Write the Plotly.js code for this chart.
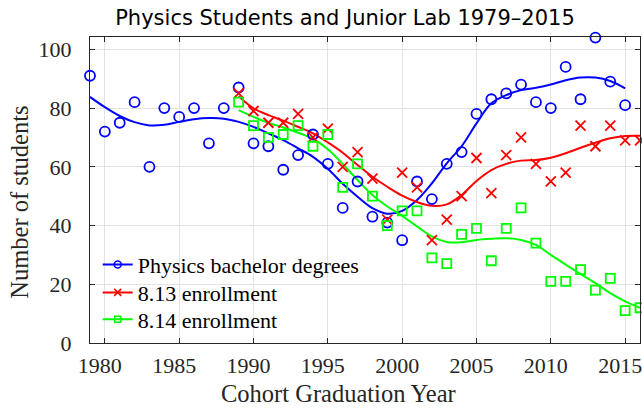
<!DOCTYPE html>
<html>
<head>
<meta charset="utf-8">
<script src="https://cdn.plot.ly/plotly-3.0.1.min.js"></script>
<style>html,body{margin:0;padding:0;background:#fff;}#chart{width:642px;height:408px;}</style>
</head>
<body>
<div id="chart"></div>
<script>
// Physics bachelor degrees (points)
var physYears = [1979,1980,1981,1982,1983,1984,1985,1986,1987,1988,1989,1990,1991,1992,1993,1994,1995,1996,1997,1998,1999,2000,2001,2002,2003,2004,2005,2006,2007,2008,2009,2010,2011,2012,2013,2014,2015];
var physValues = [91,72,75,82,60,80,77,80,68,80,87,68,67,59,64,71,61,46,55,43,41,35,55,49,61,65,78,83,85,88,82,80,94,83,104,89,81];
// Physics smoothed curve
var physFit = [83.8,80.3,77.3,75.2,74.1,74.3,75.3,76.2,76.6,76.4,75.3,73.6,71.4,69.1,66.3,63.4,59.3,54.2,49.8,45.9,44.0,45.0,48.7,54.4,61.2,67.0,74.8,81.6,84.4,86.1,86.9,88.0,89.5,90.4,90.4,89.2,86.7];

// 8.13 enrollment
var jlYears = [1989,1990,1991,1992,1993,1994,1995,1996,1997,1998,1999,2000,2001,2002,2003,2004,2005,2006,2007,2008,2009,2010,2011,2012,2013,2014,2015,2016];
var e813Values = [85,79,75,75,78,70,73,60,65,56,42,58,53,35,42,50,63,51,64,70,61,55,58,74,67,74,69,69];
var e813Fit = [84.0,79.9,77.6,75.7,73.6,71.4,68.3,64.8,60.6,56.6,53.2,50.2,48.0,46.7,47.2,50.4,55.2,58.9,61.0,62.1,62.3,63.1,64.6,66.5,68.2,69.7,70.5,70.6];

// 8.14 enrollment
var e814Values = [82,74,70,71,74,67,71,53,61,50,40,45,45,29,27,37,39,28,39,46,34,21,21,25,18,22,11,12];
var e814Fit = [79.3,77.0,75.0,73.4,71.6,69.5,66.0,61.0,55.5,50.4,46.5,43.3,39.7,36.3,34.4,34.3,35.1,35.5,35.7,35.1,33.4,30.0,26.7,23.5,20.4,17.0,14.2,12.0];

var seriesNames = ['Physics bachelor degrees','8.13 enrollment','8.14 enrollment'];
var xTicks = [1980,1985,1990,1995,2000,2005,2010,2015];
var yTicks = [0,20,40,60,80,100];

var BLUE = '#0000ff', RED = '#ff0000', GREEN = '#00ff00';
var serif = 'Liberation Serif, Times New Roman, serif';

var traces = [
  {x: physYears, y: physFit, mode: 'lines', line: {color: BLUE, width: 2, shape: 'spline'}, showlegend: false, hoverinfo: 'skip'},
  {x: jlYears, y: e813Fit, mode: 'lines', line: {color: RED, width: 2, shape: 'spline'}, showlegend: false, hoverinfo: 'skip'},
  {x: jlYears, y: e814Fit, mode: 'lines', line: {color: GREEN, width: 2, shape: 'spline'}, showlegend: false, hoverinfo: 'skip'},
  {x: physYears, y: physValues, mode: 'markers', cliponaxis: false, showlegend: false,
   marker: {symbol: 'circle-open', size: 10, color: BLUE, line: {color: BLUE, width: 1.8}}},
  {x: jlYears, y: e813Values, mode: 'markers', cliponaxis: false, showlegend: false,
   marker: {symbol: 'x-thin-open', size: 10, color: RED, line: {color: RED, width: 1.8}}},
  {x: jlYears, y: e814Values, mode: 'markers', cliponaxis: false, showlegend: false,
   marker: {symbol: 'square-open', size: 9, color: GREEN, line: {color: GREEN, width: 1.8}}},
  // legend entries
  {x: [null], y: [null], name: seriesNames[0], legend: 'legend', mode: 'lines+markers', line: {color: BLUE, width: 2},
   marker: {symbol: 'circle-open', size: 7, color: BLUE, line: {color: BLUE, width: 1.5}}},
  {x: [null], y: [null], name: seriesNames[1], legend: 'legend2', mode: 'lines+markers', line: {color: RED, width: 2},
   marker: {symbol: 'x-thin-open', size: 7, color: RED, line: {color: RED, width: 1.5}}},
  {x: [null], y: [null], name: seriesNames[2], legend: 'legend3', mode: 'lines+markers', line: {color: GREEN, width: 2},
   marker: {symbol: 'square-open', size: 6, color: GREEN, line: {color: GREEN, width: 1.5}}}
];

var axisCommon = {
  showline: true, linecolor: '#262626', linewidth: 1, mirror: 'ticks',
  ticks: 'inside', ticklen: 5, tickcolor: '#262626', tickwidth: 1,
  showgrid: true, gridcolor: '#e3e3e3', gridwidth: 1, zeroline: false,
  tickfont: {family: serif, size: 22, color: '#262626'}
};

function legendAt(rowY) {
  return {x: 0.014, xanchor: 'left', y: (343.5 - rowY) / 306.5, yanchor: 'middle', bgcolor: 'rgba(0,0,0,0)', borderwidth: 0,
          font: {family: serif, size: 22, color: '#000000'}};
}

var layout = {
  width: 642, height: 408,
  margin: {l: 90, r: 2, t: 37, b: 64.5, pad: 0},
  paper_bgcolor: '#ffffff', plot_bgcolor: '#ffffff',
  title: {text: 'Physics Students and Junior Lab 1979\u20132015', font: {family: 'DejaVu Sans, sans-serif', size: 21, color: '#000000'},
          xref: 'container', x: 345/642, xanchor: 'center', yref: 'container', y: 1 - 18/408, yanchor: 'middle'},
  xaxis: Object.assign({}, axisCommon, {range: [1979, 2016], tickvals: xTicks, ticktext: xTicks.map(String),
          ticklabelstandoff: 3, ticklabelshift: -5, ticklabeloverflow: 'allow'}),
  yaxis: Object.assign({}, axisCommon, {range: [0, 104.2], tickvals: yTicks, ticktext: yTicks.map(String), ticklabelstandoff: 13}),
  showlegend: true,
  legend: legendAt(265),
  legend2: legendAt(293),
  legend3: legendAt(320),
  annotations: [
    {text: 'Cohort Graduation Year', xref: 'paper', yref: 'paper', x: (338-90)/550, y: -(394-343.5)/306.5,
     xanchor: 'center', yanchor: 'middle', showarrow: false, font: {family: serif, size: 24.5, color: '#262626'}},
    {text: 'Number of students', xref: 'paper', yref: 'paper', x: -(90-20)/550, y: (343.5-203)/306.5, textangle: -90,
     xanchor: 'center', yanchor: 'middle', showarrow: false, font: {family: serif, size: 24.5, color: '#262626'}}
  ]
};

Plotly.newPlot('chart', traces, layout, {staticPlot: true, displayModeBar: false});
</script>
</body>
</html>
